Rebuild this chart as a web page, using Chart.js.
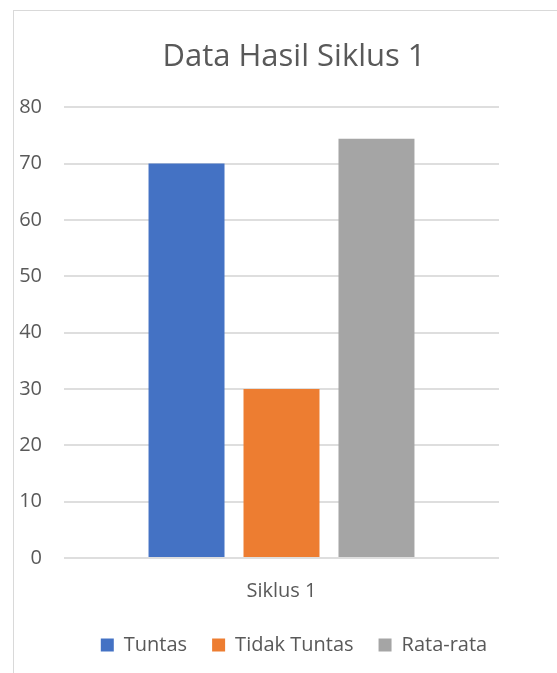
<!DOCTYPE html>
<html>
<head>
<meta charset="utf-8">
<script src="https://cdn.jsdelivr.net/npm/chart.js@4"></script>
<style>
  html, body { margin: 0; padding: 0; background: #fff; overflow: hidden; }
  body { width: 557px; height: 673px; position: relative; }
  #frame {
    position: absolute; left: 13px; top: 10px;
    width: 560px; height: 680px;
    border: 1px solid #d9d9d9;
  }
  #frame canvas { display: block; }
</style>
</head>
<body>
<div id="frame"><canvas id="siklusChart" width="560" height="680"></canvas></div>
<script>
// Data hasil siklus 1
const categories = ['Siklus 1'];
const seriesNames = ['Tuntas', 'Tidak Tuntas', 'Rata-rata'];
const seriesValues = [[70], [30], [74.4]];
const seriesColors = ['#4472C4', '#ED7D31', '#A5A5A5'];
const yTicks = { min: 0, max: 80, step: 10 };

const textColor = '#595959';
const fontFamily = '"Open Sans", "Noto Sans", sans-serif';

const ctx = document.getElementById('siklusChart').getContext('2d');

new Chart(ctx, {
  type: 'bar',
  data: {
    labels: categories,
    datasets: seriesNames.map((name, i) => ({
      label: name,
      data: seriesValues[i],
      backgroundColor: seriesColors[i],
      borderWidth: 0,
      categoryPercentage: 0.655,
      barPercentage: 0.8
    }))
  },
  options: {
    responsive: false,
    animation: false,
    layout: { padding: { left: 0, right: 0, top: 0, bottom: 26 } },
    plugins: {
      title: {
        display: true,
        text: 'Data Hasil Siklus 1',
        color: textColor,
        font: { family: fontFamily, size: 31, weight: 'normal' },
        padding: { top: 28, bottom: 31 }
      },
      legend: {
        position: 'bottom',
        labels: {
          color: textColor,
          boxWidth: 13,
          boxHeight: 13,
          padding: 25,
          font: { family: fontFamily, size: 20 }
        }
      },
      tooltip: { enabled: false }
    },
    scales: {
      x: {
        // shorter axis box so the legend sits closer to the category label
        afterFit(scale) { scale.height = 52; },
        grid: { display: false, drawTicks: false },
        border: { display: false },
        ticks: {
          color: textColor,
          padding: 21,
          font: { family: fontFamily, size: 20 }
        }
      },
      y: {
        min: yTicks.min,
        max: yTicks.max,
        afterFit(scale) { scale.width = 50; },
        grid: { color: '#dedede', lineWidth: 2, drawTicks: false },
        border: { display: false },
        ticks: {
          stepSize: yTicks.step,
          color: textColor,
          padding: 22,
          font: { family: fontFamily, size: 20 }
        }
      },
      // empty right-hand margin of the plot, kept as a blank axis
      yRight: {
        position: 'right',
        min: yTicks.min,
        max: yTicks.max,
        afterFit(scale) { scale.width = 75; },
        grid: { display: false, drawTicks: false },
        border: { display: false },
        ticks: { display: false }
      }
    }
  }
});
</script>
</body>
</html>
